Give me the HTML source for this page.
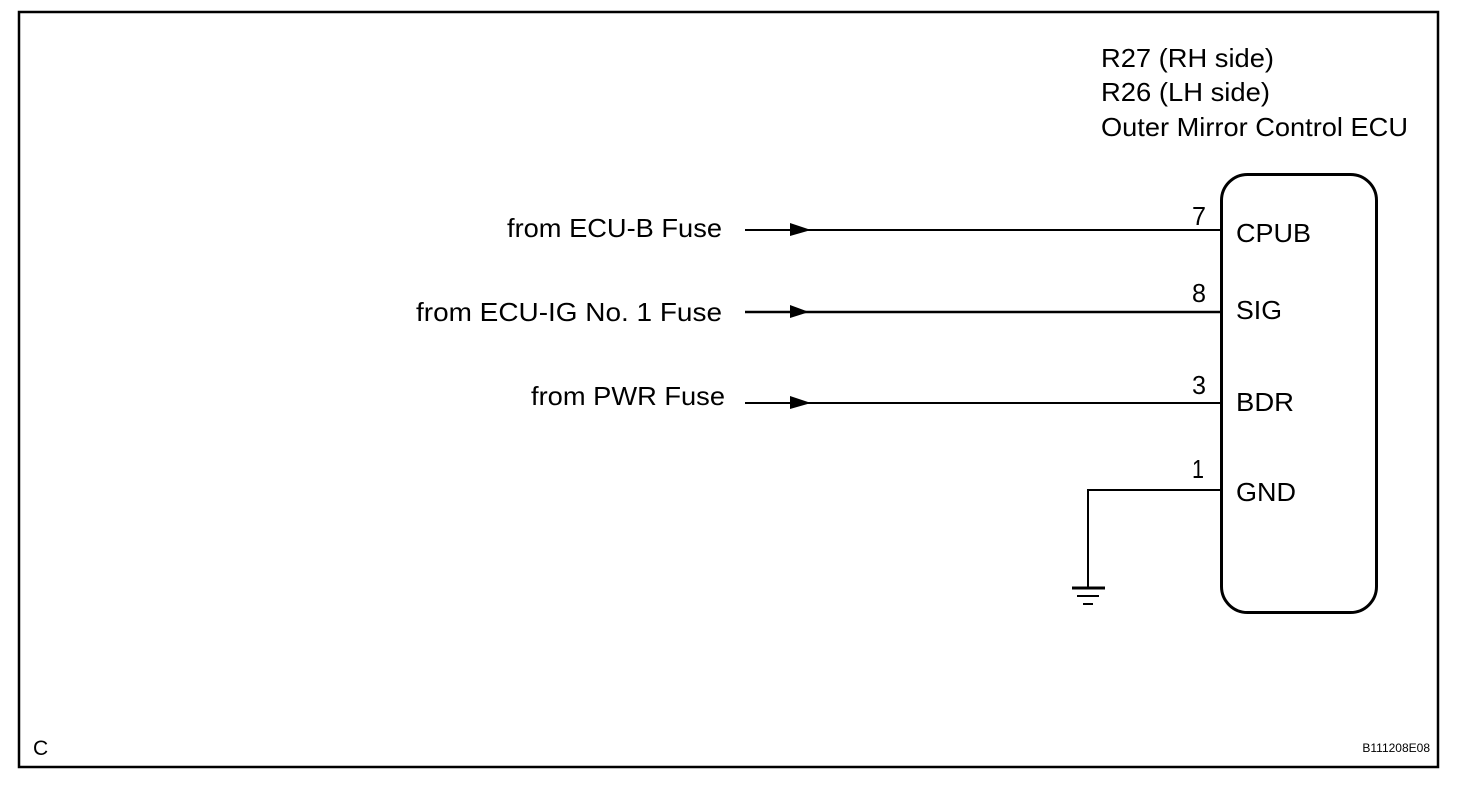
<!DOCTYPE html>
<html><head><meta charset="utf-8"><style>
html,body{margin:0;padding:0;background:#fff;}
svg{display:block;}
text{font-family:"Liberation Sans",Arial,sans-serif;fill:#000;}
</style></head><body>
<svg width="1472" height="792" viewBox="0 0 1472 792" xmlns="http://www.w3.org/2000/svg">
<rect x="19" y="12" width="1419" height="755" fill="none" stroke="#000" stroke-width="2.5"/>
<rect x="1221.5" y="174.5" width="155" height="438" rx="26" fill="none" stroke="#000" stroke-width="3"/>
<g font-size="26" lengthAdjust="spacingAndGlyphs">
<text x="1101" y="67" textLength="173" lengthAdjust="spacingAndGlyphs">R27 (RH side)</text>
<text x="1101" y="101" textLength="169" lengthAdjust="spacingAndGlyphs">R26 (LH side)</text>
<text x="1101" y="136" textLength="307" lengthAdjust="spacingAndGlyphs">Outer Mirror Control ECU</text>
<text x="1236" y="242" textLength="75" lengthAdjust="spacingAndGlyphs">CPUB</text>
<text x="1236" y="319" textLength="46" lengthAdjust="spacingAndGlyphs">SIG</text>
<text x="1236" y="411" textLength="58" lengthAdjust="spacingAndGlyphs">BDR</text>
<text x="1236" y="501" textLength="60" lengthAdjust="spacingAndGlyphs">GND</text>
<text x="1192" y="225" textLength="14" lengthAdjust="spacingAndGlyphs">7</text>
<text x="1192" y="302" textLength="14" lengthAdjust="spacingAndGlyphs">8</text>
<text x="1192" y="394" textLength="14" lengthAdjust="spacingAndGlyphs">3</text>
<text x="1192" y="478" textLength="12" lengthAdjust="spacingAndGlyphs">1</text>
<text x="507" y="237" textLength="215" lengthAdjust="spacingAndGlyphs">from ECU-B Fuse</text>
<text x="416" y="321" textLength="306" lengthAdjust="spacingAndGlyphs">from ECU-IG No. 1  Fuse</text>
<text x="531" y="405" textLength="194" lengthAdjust="spacingAndGlyphs">from PWR Fuse</text>
</g>
<text x="33" y="755" font-size="21">C</text>
<text x="1430" y="752" font-size="12" text-anchor="end">B111208E08</text>
<g stroke="#000" stroke-width="2" fill="none">
<line x1="745" y1="230" x2="1221" y2="230"/>
<line x1="745" y1="312" x2="1221" y2="312" stroke-width="2.5"/>
<line x1="745" y1="403" x2="1221" y2="403"/>
<polyline points="1221,490 1088,490 1088,588"/>
<line x1="1072" y1="588" x2="1105" y2="588" stroke-width="3"/>
<line x1="1077" y1="596" x2="1099" y2="596"/>
<line x1="1083" y1="604" x2="1093" y2="604"/>
</g>
<g fill="#000">
<polygon points="790,223 811,230 790,236"/>
<polygon points="790,305 809,312 790,318"/>
<polygon points="790,396 811,403 790,409"/>
</g>
</svg>
</body></html>
